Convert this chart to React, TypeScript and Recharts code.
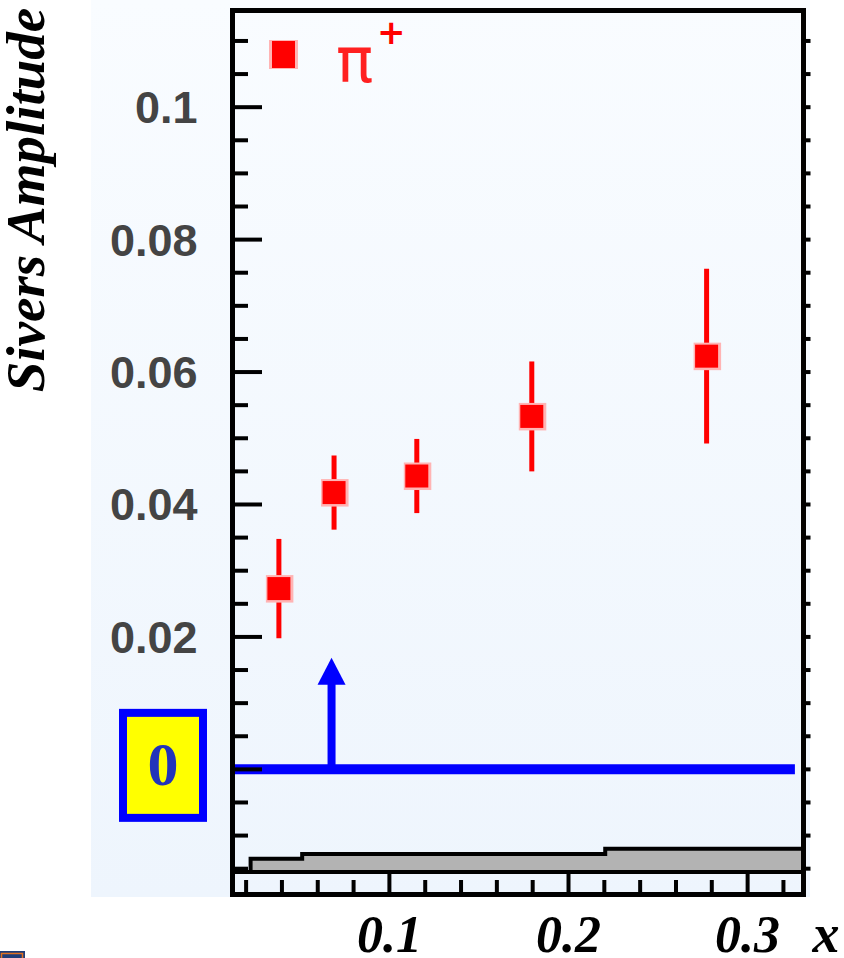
import React from 'react';
import {
  ComposedChart,
  Scatter,
  ErrorBar,
  Area,
  XAxis,
  YAxis,
  ReferenceLine,
  ReferenceDot,
  Legend,
} from 'recharts';

// ---------- data ----------
const pointX = [0.0383, 0.0691, 0.1153, 0.1795, 0.2771];
const pointY = [0.0273, 0.0418, 0.0443, 0.0533, 0.0624];
const pointErr = [0.0075, 0.0056, 0.0056, 0.0083, 0.0132];

// systematic band (step histogram at the bottom)
const bandX = [0.0225, 0.0225, 0.0513, 0.2205, 0.3312];
const bandY = [-0.0155, -0.0135, -0.0128, -0.012, -0.012];

const yTicks = [
  -0.015, -0.01, -0.005, 0, 0.005, 0.01, 0.015, 0.02, 0.025, 0.03, 0.035, 0.04, 0.045,
  0.05, 0.055, 0.06, 0.065, 0.07, 0.075, 0.08, 0.085, 0.09, 0.095, 0.1, 0.105, 0.11,
];
const yMajorTicks = [0, 0.02, 0.04, 0.06, 0.08, 0.1];
const yTickLabels = ['0', '0.02', '0.04', '0.06', '0.08', '0.1'];

const xTicks = [0.02, 0.04, 0.06, 0.08, 0.1, 0.12, 0.14, 0.16, 0.18, 0.2, 0.22, 0.24, 0.26, 0.28, 0.3, 0.32];
const xMajorTicks = [0.1, 0.2, 0.3];
const xTickLabels = ['0.1', '0.2', '0.3'];

const zeroLineEnd = 0.3264;
const arrowX = 0.0677;
const arrowShaftTop = 0.013;
const arrowTip = 0.01684;

const seriesName = 'π';
const seriesCharge = '+';
const yTitle = 'Sivers Amplitude';
const xTitle = 'x';

// ---------- layout ----------
const W = 844;
const H = 958;
const PLOT_L = 232.5;
const PLOT_R = 803.5;
const PLOT_T = 10.5;
const PLOT_B = 872;
const STRIP_B = 894.5;
const X_MIN = 0.0124;
const X_MAX = 0.3312;
const Y_MIN = -0.0155;
const Y_MAX = 0.1146;

const points = pointX.map((x, i) => ({ x, y: pointY[i], err: pointErr[i] }));
const band = bandX.map((x, i) => ({ x, band: bandY[i] }));

const idxOf = (arr: number[], v: number) => arr.findIndex((m) => Math.abs(m - v) < 1e-9);

const LeftTick = (props: any) => {
  const { x, y, payload } = props;
  const v = payload.value;
  const idx = idxOf(yMajorTicks, v);
  const major = idx >= 0;
  const x0 = x + 2.5;
  return (
    <g>
      <line x1={x0} x2={x0 + (major ? 27 : 13)} y1={y} y2={y} stroke="#000" strokeWidth={4} />
      {major && v !== 0 && (
        <text
          x={x - 35}
          y={y + 16}
          textAnchor="end"
          fontFamily="'Liberation Sans', Arial, sans-serif"
          fontSize={45}
          fontWeight="bold"
          fill="#444444"
        >
          {yTickLabels[idx]}
        </text>
      )}
      {major && v === 0 && (
        <g>
          <rect x={x - 109.5} y={y - 56.5} width={80} height={105} fill="#ffff00" stroke="#0000ff" strokeWidth={8} />
          <text
            x={x - 69.5}
            y={y + 16}
            textAnchor="middle"
            fontFamily="'Liberation Serif', 'Times New Roman', serif"
            fontWeight="bold"
            fontSize={62}
            fill="#2233bb"
          >
            {yTickLabels[idx]}
          </text>
        </g>
      )}
    </g>
  );
};

const RightTick = (props: any) => {
  const { x, y } = props;
  return <line x1={x + 1.5} x2={x + 7} y1={y} y2={y} stroke="#000" strokeWidth={4} />;
};

const BottomTick = (props: any) => {
  const { x, y, payload } = props;
  const v = payload.value;
  const idx = idxOf(xMajorTicks, v);
  const major = idx >= 0;
  return (
    <g>
      <line x1={x} x2={x} y1={y + 22.5} y2={major ? y + 2 : y + 8} stroke="#000" strokeWidth={4} />
      {major && (
        <text
          x={x}
          y={y + 80}
          textAnchor="middle"
          fontFamily="'Liberation Serif', 'Times New Roman', serif"
          fontStyle="italic"
          fontWeight="bold"
          fontSize={52}
          fill="#000"
        >
          {xTickLabels[idx]}
        </text>
      )}
    </g>
  );
};

const YTitle = () => (
  <text
    transform="translate(44,200) rotate(-90)"
    textAnchor="middle"
    fontFamily="'Liberation Serif', 'Times New Roman', serif"
    fontStyle="italic"
    fontWeight="bold"
    fontSize={55}
    fill="#000"
  >
    {yTitle}
  </text>
);

const XTitle = () => (
  <text
    x={826}
    y={952}
    textAnchor="middle"
    fontFamily="'Liberation Serif', 'Times New Roman', serif"
    fontStyle="italic"
    fontWeight="bold"
    fontSize={54}
    fill="#000"
  >
    {xTitle}
  </text>
);

const SquareShape = (props: any) => {
  const { cx, cy } = props;
  return (
    <g>
      <rect x={cx - 13} y={cy - 13.5} width={27.5} height={27.5} fill="#ffb4b4" />
      <rect x={cx - 11.5} y={cy - 11.5} width={23} height={23} fill="#ff0000" />
    </g>
  );
};

const ArrowHead = (props: any) => {
  const { cx, cy } = props;
  return <polygon points={`${cx},${cy} ${cx - 14},${cy + 27} ${cx + 14},${cy + 27}`} fill="#0000ff" />;
};

const LegendContent = () => (
  <svg width={W} height={100} style={{ display: 'block' }}>
    <rect x={269} y={40} width={29} height={29} fill="#ffb4b4" />
    <rect x={272} y={41} width={23} height={27} fill="#ff0000" />
    <text x={336} y={82} fontFamily="'DejaVu Sans', sans-serif" fontSize={62} fill="#ff2020">
      {seriesName}
    </text>
    <text x={377} y={44} fontFamily="'DejaVu Sans', sans-serif" fontSize={34} fontWeight="bold" fill="#ff0000">
      {seriesCharge}
    </text>
  </svg>
);

export default function App() {
  return (
    <div style={{ position: 'absolute', left: 0, top: 0, width: W, height: H, background: '#ffffff', overflow: 'hidden' }}>
      <div
        style={{
          position: 'absolute',
          left: 91,
          top: 0,
          width: 719,
          height: 897,
          background: 'linear-gradient(#f9fcff, #eef5fd)',
        }}
      />
      <div style={{ position: 'absolute', left: 0, top: 0 }}>
        <ComposedChart
          width={W}
          height={H}
          data={band}
          margin={{ top: PLOT_T, right: 0, bottom: 0, left: 0 }}
        >
          <XAxis
            dataKey="x"
            type="number"
            domain={[X_MIN, X_MAX]}
            allowDataOverflow
            ticks={xTicks}
            interval={0}
            height={H - PLOT_B}
            tickSize={0}
            tickMargin={0}
            tickLine={false}
            axisLine={false}
            tick={<BottomTick />}
            label={<XTitle />}
          />
          <YAxis
            yAxisId="l"
            type="number"
            domain={[Y_MIN, Y_MAX]}
            allowDataOverflow
            ticks={yTicks}
            interval={0}
            width={PLOT_L}
            tickSize={0}
            tickMargin={0}
            tickLine={false}
            axisLine={false}
            tick={<LeftTick />}
            label={<YTitle />}
          />
          <YAxis
            yAxisId="r"
            orientation="right"
            type="number"
            domain={[Y_MIN, Y_MAX]}
            allowDataOverflow
            ticks={yTicks}
            interval={0}
            width={W - PLOT_R}
            tickSize={0}
            tickMargin={0}
            tickLine={false}
            axisLine={false}
            tick={<RightTick />}
          />
          <Area
            yAxisId="l"
            dataKey="band"
            type="stepAfter"
            baseValue={Y_MIN}
            fill="#b3b3b3"
            fillOpacity={1}
            stroke="#000"
            strokeWidth={4}
            isAnimationActive={false}
            legendType="none"
            dot={false}
            activeDot={false}
          />
          <ReferenceLine
            yAxisId="l"
            segment={[
              { x: X_MIN, y: 0 },
              { x: zeroLineEnd, y: 0 },
            ]}
            stroke="#0000ff"
            strokeWidth={10}
          />
          <ReferenceLine
            yAxisId="l"
            segment={[
              { x: arrowX, y: 0 },
              { x: arrowX, y: arrowShaftTop },
            ]}
            stroke="#0000ff"
            strokeWidth={8}
          />
          <ReferenceDot yAxisId="l" x={arrowX} y={arrowTip} r={2} shape={<ArrowHead />} />
          <Scatter
            yAxisId="l"
            name={seriesName + seriesCharge}
            data={points}
            dataKey="y"
            fill="#ff0000"
            shape={<SquareShape />}
            isAnimationActive={false}
          >
            <ErrorBar dataKey="err" direction="y" width={0} stroke="#ff0000" strokeWidth={5} isAnimationActive={false} />
          </Scatter>
          <Legend
            layout="horizontal"
            verticalAlign="middle"
            align="center"
            content={<LegendContent />}
            wrapperStyle={{ position: 'absolute', left: 0, top: 0, width: W, height: 100, margin: 0 }}
          />
        </ComposedChart>
      </div>
      <svg
        width={W}
        height={H}
        style={{ position: 'absolute', left: 0, top: 0, pointerEvents: 'none' }}
      >
        <rect
          x={PLOT_L}
          y={PLOT_T}
          width={PLOT_R - PLOT_L}
          height={STRIP_B - PLOT_T}
          fill="none"
          stroke="#000"
          strokeWidth={5}
        />
        <line x1={PLOT_L} x2={PLOT_R} y1={PLOT_B} y2={PLOT_B} stroke="#000" strokeWidth={4} />
        <rect x={0} y={951} width={25} height={7} fill="#1e3c78" />
        <rect x={1.5} y={953.5} width={21} height={6} fill="none" stroke="#e07020" strokeWidth={1.5} />
      </svg>
    </div>
  );
}
